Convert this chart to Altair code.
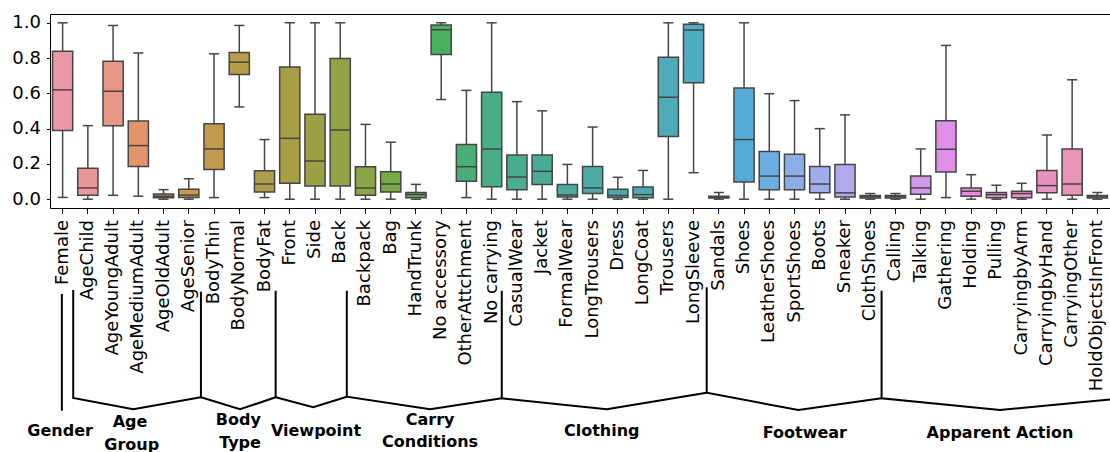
import math
import colorsys
import altair as alt
import pandas as pd

# ---------------------------------------------------------------------------
# Per-attribute score distributions (box = quartiles, whiskers = lo/hi)
# ---------------------------------------------------------------------------
categories = [
    "Female", "AgeChild", "AgeYoungAdult", "AgeMediumAdult", "AgeOldAdult",
    "AgeSenior", "BodyThin", "BodyNormal", "BodyFat", "Front", "Side", "Back",
    "Backpack", "Bag", "HandTrunk", "No accessory", "OtherAttchment",
    "No carrying", "CasualWear", "Jacket", "FormalWear", "LongTrousers",
    "Dress", "LongCoat", "Trousers", "LongSleeve", "Sandals", "Shoes",
    "LeatherShoes", "SportShoes", "Boots", "Sneaker", "ClothShoes", "Calling",
    "Talking", "Gathering", "Holding", "Pulling", "CarryingbyArm",
    "CarryingbyHand", "CarryingOther", "HoldObjectsInFront",
]
whisker_lo = [
    0.010, 0.000, 0.023, 0.017, 0.000, 0.000, 0.009, 0.523, 0.009, 0.000,
    0.000, 0.000, 0.000, 0.000, 0.000, 0.565, 0.009, 0.000, 0.000, 0.000,
    0.000, 0.000, 0.000, 0.000, 0.000, 0.150, 0.000, 0.000, 0.000, 0.000,
    0.000, 0.000, 0.000, 0.000, 0.000, 0.009, 0.000, 0.000, 0.000, 0.000,
    0.000, 0.000,
]
q1 = [
    0.390, 0.023, 0.417, 0.186, 0.008, 0.009, 0.169, 0.707, 0.041, 0.090,
    0.075, 0.075, 0.023, 0.041, 0.008, 0.820, 0.101, 0.071, 0.054, 0.083,
    0.013, 0.032, 0.009, 0.008, 0.356, 0.660, 0.006, 0.098, 0.054, 0.054,
    0.036, 0.013, 0.006, 0.006, 0.028, 0.154, 0.017, 0.008, 0.008, 0.036,
    0.023, 0.006,
]
median = [
    0.620, 0.064, 0.612, 0.304, 0.017, 0.023, 0.285, 0.777, 0.086, 0.345,
    0.216, 0.392, 0.064, 0.086, 0.026, 0.961, 0.184, 0.285, 0.126, 0.158,
    0.024, 0.064, 0.021, 0.026, 0.578, 0.959, 0.011, 0.338, 0.131, 0.131,
    0.086, 0.036, 0.013, 0.013, 0.064, 0.283, 0.045, 0.026, 0.032, 0.077,
    0.086, 0.013,
]
q3 = [
    0.839, 0.176, 0.782, 0.443, 0.030, 0.056, 0.428, 0.831, 0.161, 0.750,
    0.482, 0.797, 0.184, 0.156, 0.038, 0.987, 0.310, 0.606, 0.250, 0.250,
    0.083, 0.186, 0.056, 0.069, 0.805, 0.992, 0.017, 0.630, 0.270, 0.255,
    0.186, 0.197, 0.021, 0.021, 0.131, 0.445, 0.064, 0.038, 0.045, 0.163,
    0.285, 0.021,
]
whisker_hi = [
    1.000, 0.417, 0.985, 0.829, 0.054, 0.116, 0.824, 0.985, 0.338, 1.000,
    1.000, 1.000, 0.424, 0.323, 0.084, 1.000, 0.617, 1.000, 0.553, 0.501,
    0.197, 0.409, 0.124, 0.163, 1.000, 1.000, 0.038, 1.000, 0.598, 0.559,
    0.400, 0.478, 0.032, 0.032, 0.285, 0.872, 0.139, 0.079, 0.090, 0.364,
    0.677, 0.038,
]
y_ticks = [0.0, 0.2, 0.4, 0.6, 0.8, 1.0]

# ---------------------------------------------------------------------------
# Attribute-group brackets drawn under the tick labels.
# x is in category-index units, y is depth (px) below the plot frame.
# ---------------------------------------------------------------------------
bracket_group = (
    ["Gender"] * 2 + ["Age"] * 4 + ["Body"] * 4 + ["View"] * 4 +
    ["Carry"] * 4 + ["Clothing"] * 4 + ["Footwear"] * 4 + ["Action"] * 4
)
bracket_x = [
    -0.03, -0.03,
    0.42, 0.42, 2.80, 5.48,
    5.48, 5.48, 7.03, 8.44,
    8.44, 8.44, 9.93, 11.26,
    11.26, 11.26, 14.56, 17.40,
    17.40, 17.40, 21.56, 25.52,
    25.52, 25.52, 29.15, 32.45,
    32.45, 32.45, 37.14, 41.50,
]
bracket_y = [
    86.0, 202.7,
    82.0, 190.0, 201.3, 189.3,
    83.7, 189.3, 201.3, 189.3,
    82.7, 189.3, 199.3, 188.7,
    82.7, 188.7, 201.3, 190.3,
    82.7, 190.3, 201.3, 184.7,
    79.3, 184.7, 202.0, 190.3,
    82.7, 190.3, 202.0, 191.5,
]
group_labels = ["Gender", "Age", "Group", "Body", "Type", "Viewpoint", "Carry",
                "Conditions", "Clothing", "Footwear", "Apparent Action"]
group_label_x = [-0.10, 2.67, 2.74, 6.96, 7.03, 10.04, 14.56, 14.56, 21.36,
                 29.41, 37.14]
group_label_y = [222.7, 213.7, 237.0, 212.0, 234.7, 222.7, 212.0, 233.7,
                 222.7, 225.3, 225.3]


# ---------------------------------------------------------------------------
# HUSL palette (as used by seaborn for many categories), desaturated to 0.75
# ---------------------------------------------------------------------------
_M = [
    [3.2406, -1.5372, -0.4986],
    [-0.9689, 1.8758, 0.0415],
    [0.0557, -0.2040, 1.0570],
]
_REF_U, _REF_V = 0.19784, 0.46834
_LAB_E, _LAB_K = 0.008856, 903.3


def _max_chroma(L, H):
    hrad = math.radians(H)
    sin_h, cos_h = math.sin(hrad), math.cos(hrad)
    sub1 = ((L + 16.0) ** 3) / 1560896.0
    sub2 = sub1 if sub1 > _LAB_E else L / _LAB_K
    result = float("inf")
    for m1, m2, m3 in _M:
        top = (0.99915 * m1 + 1.05122 * m2 + 1.14460 * m3) * sub2
        rbottom = 0.86330 * m3 - 0.17266 * m2
        lbottom = 0.12949 * m3 - 0.38848 * m1
        bottom = (rbottom * sin_h + lbottom * cos_h) * sub2
        for t in (0.0, 1.0):
            c = L * (top - 1.05122 * t) / (bottom + 0.17266 * sin_h * t)
            if 0.0 < c < result:
                result = c
    return result


def _from_linear(c):
    if c <= 0.0031308:
        return 12.92 * c
    return 1.055 * math.pow(c, 1.0 / 2.4) - 0.055


def husl_to_rgb(h, s, l):
    C = _max_chroma(l, h) / 100.0 * s
    hrad = math.radians(h)
    U, V = math.cos(hrad) * C, math.sin(hrad) * C
    if l > _LAB_K * _LAB_E:
        var_y = ((l + 16.0) / 116.0) ** 3
    else:
        var_y = l / _LAB_K
    var_u = U / (13.0 * l) + _REF_U
    var_v = V / (13.0 * l) + _REF_V
    Y = var_y
    X = 0.0 - (9.0 * Y * var_u) / ((var_u - 4.0) * var_v - var_u * var_v)
    Z = (9.0 * Y - (15.0 * var_v * Y) - (var_v * X)) / (3.0 * var_v)
    rgb = [_from_linear(r[0] * X + r[1] * Y + r[2] * Z) for r in _M]
    return [min(1.0, max(0.0, v)) for v in rgb]


def box_palette(n, h=0.01, s=0.9, l=0.7, desat=0.75):
    cols = []
    for i in range(n):
        hue = ((i / n + h) % 1) * 359
        r, g, b = husl_to_rgb(hue, s * 99, l * 99)
        hh, ll, ss = colorsys.rgb_to_hls(r, g, b)
        cols.append(colorsys.hls_to_rgb(hh, ll, ss * desat))
    return cols


def to_hex(rgb):
    return "#" + "".join(f"{int(round(v * 255)):02x}" for v in rgb)


rgb_cols = box_palette(len(categories))
box_colors = [to_hex(c) for c in rgb_cols]
lum = min(colorsys.rgb_to_hls(*c)[1] for c in rgb_cols) * 0.6
line_gray = to_hex((lum, lum, lum))

# ---------------------------------------------------------------------------
# Layout (px): plot area plus the bracket strip below it
# ---------------------------------------------------------------------------
FONT = "DejaVu Sans"
PLOT_W, PLOT_H = 1060, 194
ANN_H = 244
step = PLOT_W / len(categories)

# ---------------------------------------------------------------------------
# Box plot layers
# ---------------------------------------------------------------------------
box_df = pd.DataFrame({
    "attr": categories, "lo": whisker_lo, "q1": q1, "med": median,
    "q3": q3, "hi": whisker_hi,
})

x_axis = alt.Axis(title=None, labelAngle=-90, labelFont=FONT, labelFontSize=18,
                  labelColor="#000", labelPadding=6, labelLimit=0,
                  labelOverlap=False, tickSize=5.5, tickColor="#000",
                  tickWidth=1, domain=False, grid=False)
x_enc = alt.X("attr:N", sort=categories,
              scale=alt.Scale(paddingInner=0, paddingOuter=0), axis=x_axis)
y_scale = alt.Scale(domain=[-0.05, 1.05], nice=False, zero=False)
y_axis = alt.Axis(title=None, values=y_ticks, format=".1f",
                  labelFont=FONT, labelFontSize=18, labelColor="#000",
                  labelPadding=6, labelOverlap=False, labelFlush=False,
                  tickSize=3.5, tickColor="#000", tickWidth=1,
                  domain=False, grid=False)


def y_enc(field):
    return alt.Y(field, type="quantitative", scale=y_scale, axis=y_axis)


base = alt.Chart(box_df)

whiskers = base.mark_rule(color=line_gray, strokeWidth=1.5).encode(
    x=x_enc, y=y_enc("lo"), y2="hi:Q")

cap_lo = base.mark_tick(color=line_gray, size=step * 0.4, thickness=1.5,
                        opacity=1).encode(x=x_enc, y=y_enc("lo"))
cap_hi = base.mark_tick(color=line_gray, size=step * 0.4, thickness=1.5,
                        opacity=1).encode(x=x_enc, y=y_enc("hi"))

boxes = base.mark_bar(width=alt.RelativeBandSize(0.8), stroke=line_gray,
                      strokeWidth=1.5, opacity=1).encode(
    x=x_enc,
    y=y_enc("q1"),
    y2="q3:Q",
    fill=alt.Fill("attr:N", scale=alt.Scale(domain=categories, range=box_colors),
                  legend=None),
)

medians = base.mark_tick(color=line_gray, size=step * 0.8, thickness=1.5,
                         opacity=1).encode(x=x_enc, y=y_enc("med"))

box_layer = alt.layer(whiskers, cap_lo, cap_hi, boxes, medians)

# ---------------------------------------------------------------------------
# Group brackets: own x (category index) and y (depth below frame) scales
# ---------------------------------------------------------------------------
bracket_df = pd.DataFrame({
    "grp": bracket_group, "seq": list(range(len(bracket_x))),
    "bx": bracket_x, "by": bracket_y,
})
label_df = pd.DataFrame({"label": group_labels, "lx": group_label_x,
                         "ly": group_label_y})

ann_x = alt.Scale(domain=[-0.5, len(categories) - 0.5], nice=False, zero=False)
ann_y = alt.Scale(domain=[0, ANN_H], range=[PLOT_H, PLOT_H + ANN_H],
                  nice=False, zero=False)

brackets = alt.Chart(bracket_df).mark_line(color="#000", strokeWidth=2).encode(
    x=alt.X("bx:Q", scale=ann_x, axis=None),
    y=alt.Y("by:Q", scale=ann_y, axis=None),
    detail="grp:N",
    order="seq:Q",
)
group_text = alt.Chart(label_df).mark_text(
    font=FONT, fontWeight="bold", fontSize=16, align="center",
    baseline="middle", color="#000",
).encode(
    x=alt.X("lx:Q", scale=ann_x, axis=None),
    y=alt.Y("ly:Q", scale=ann_y, axis=None),
    text="label:N",
)
ann_layer = alt.layer(brackets, group_text)

chart = alt.layer(box_layer, ann_layer).resolve_scale(
    x="independent", y="independent"
).properties(
    width=PLOT_W, height=PLOT_H,
    autosize=alt.AutoSizeParams(type="none"),
    padding={"left": 50, "top": 14, "right": 0, "bottom": ANN_H},
    background="white",
).configure_view(
    stroke="#000", strokeWidth=1
).configure_axis(labelOverlap=False)

chart.save("out.html", embed_options={"renderer": "svg", "actions": False})
